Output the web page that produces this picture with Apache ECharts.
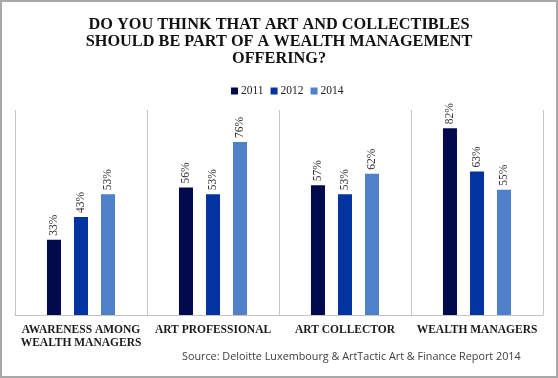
<!DOCTYPE html>
<html><head><meta charset="utf-8">
<script src="https://cdn.jsdelivr.net/npm/echarts@6/dist/echarts.min.js"></script>
<style>html,body{margin:0;padding:0;background:#fff}#c{width:558px;height:378px}</style>
</head><body><div id="c"></div>
<script>
const categories = ['AWARENESS AMONG\nWEALTH MANAGERS', 'ART PROFESSIONAL', 'ART COLLECTOR', 'WEALTH MANAGERS'];
const years = ['2011', '2012', '2014'];
const v2011 = [33, 56, 57, 82];
const v2012 = [43, 53, 53, 63];
const v2014 = [53, 76, 62, 55];
const colors = ['#020a4e', '#0333a0', '#4f81c8'];
const seriesValues = [v2011, v2012, v2014];

const chart = echarts.init(document.getElementById('c'), null, {renderer: 'canvas'});
chart.setOption({
  animation: false,
  backgroundColor: '#fff',
  title: {
    text: 'DO YOU THINK THAT ART AND COLLECTIBLES\nSHOULD BE PART OF A WEALTH MANAGEMENT\nOFFERING?',
    left: 'center', top: 11,
    textStyle: {fontFamily: 'Liberation Serif', fontWeight: 'bold', fontSize: 16.3, lineHeight: 17, color: '#111'}
  },
  legend: {
    top: 80, left: 226,
    itemWidth: 7, itemHeight: 7, itemGap: 7, icon: 'rect',
    textStyle: {fontFamily: 'Liberation Serif', fontSize: 11.5, color: '#222', padding: [0, 0, 0, -2]},
    data: years
  },
  grid: {left: 15, right: 15, top: 110, bottom: 63},
  xAxis: {
    type: 'category', data: categories,
    axisLine: {show: true, lineStyle: {color: '#c4c4c4', width: 1}},
    axisTick: {show: false},
    splitLine: {show: true, interval: 0, lineStyle: {color: '#c4c4c4', width: 1}},
    axisLabel: {interval: 0, margin: 9, fontFamily: 'Liberation Serif', fontWeight: 'bold', fontSize: 11.5, lineHeight: 13, color: '#1a1a1a'}
  },
  yAxis: {type: 'value', min: 0, max: 90, show: false, splitLine: {show: false}},
  graphic: [
    {type: 'rect', shape: {x: 1, y: 1, width: 556, height: 376}, style: {fill: 'none', stroke: '#a8a8a8', lineWidth: 2}, silent: true},
    {type: 'text', left: 182, top: 351, style: {text: 'Source: Deloitte Luxembourg & ArtTactic Art & Finance Report 2014', fontFamily: 'Open Sans', fontSize: 10.8, fill: '#404040'}}
  ],
  series: seriesValues.map((vals, i) => ({
    name: years[i], type: 'bar', data: vals,
    barWidth: 14, barGap: '93%', barCategoryGap: '48%',
    itemStyle: {color: colors[i]},
    label: {
      show: true, position: 'top', rotate: 90, align: 'left', verticalAlign: 'middle', distance: 4,
      formatter: '{c}%', fontFamily: 'Liberation Serif', fontSize: 11.5, color: '#333'
    }
  }))
});
</script></body></html>
